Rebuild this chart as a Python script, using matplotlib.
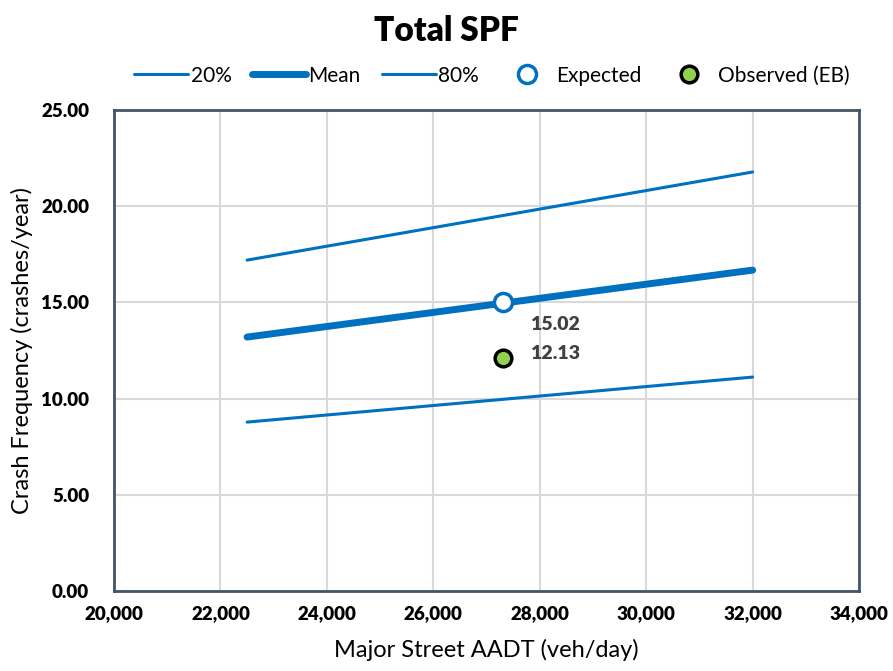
import matplotlib.pyplot as plt

plt.rcParams['font.family'] = ['Lato', 'DejaVu Sans']

# SPF curves (end points)
aadt = [22500, 32000]
low_20 = [8.78, 11.12]
mean = [13.2, 16.68]
high_80 = [17.2, 21.78]

site_aadt = 27300
expected = 15.02
observed = 12.13

x_ticks = list(range(20000, 34001, 2000))
y_ticks = [0, 5, 10, 15, 20, 25]

blue = '#0070C0'
green = '#92D050'
frame = '#44546A'

fig = plt.figure(figsize=(8.93, 6.71), dpi=100)
ax = fig.add_axes([0.1277, 0.1192, 0.962 - 0.1277, 0.836 - 0.1192])

ax.plot(aadt, low_20, color=blue, lw=2.2, solid_capstyle='round', label='20%')
ax.plot(aadt, mean, color=blue, lw=5, solid_capstyle='round', label='Mean')
ax.plot(aadt, high_80, color=blue, lw=2.2, solid_capstyle='round', label='80%')
ax.plot([site_aadt], [expected], 'o', ms=13, mfc='white', mec=blue, mew=2.5,
        ls='none', label='Expected', zorder=5)
ax.plot([site_aadt], [observed], 'o', ms=12, mfc=green, mec='black', mew=2.5,
        ls='none', label='Observed (EB)', zorder=5)

ax.annotate(f'{expected:.2f}', (site_aadt, expected), xytext=(20, -16),
            textcoords='offset points', fontsize=14, fontweight='heavy',
            color='#404040', va='center')
ax.annotate(f'{observed:.2f}', (site_aadt, observed), xytext=(20, 3),
            textcoords='offset points', fontsize=14, fontweight='heavy',
            color='#404040', va='center')

ax.set_xlim(20000, 34000)
ax.set_ylim(0, 25)
ax.set_xticks(x_ticks)
ax.set_xticklabels([f'{v:,}' for v in x_ticks], fontweight='heavy')
ax.set_yticks(y_ticks)
ax.set_yticklabels([f'{v:.2f}' for v in y_ticks], fontweight='heavy')
ax.tick_params(length=0, labelsize=13.5)
ax.tick_params(axis='y', pad=18)
ax.tick_params(axis='x', pad=10)
ax.grid(True, color='#D9D9D9', lw=1.5)
ax.set_axisbelow(True)
for s in ax.spines.values():
    s.set_color(frame)
    s.set_linewidth(2)

ax.set_xlabel('Major Street AADT (veh/day)', fontsize=17, labelpad=12)
ax.set_ylabel('Crash Frequency (crashes/year)', fontsize=17, labelpad=6)
fig.suptitle('Total SPF', fontsize=24, fontweight='heavy', y=0.978)

fig.legend(loc='upper center', bbox_to_anchor=(0.551, 0.93), ncol=5,
           frameon=False, fontsize=15, handlelength=2.6, handletextpad=0.1,
           columnspacing=1.0, numpoints=1)

fig.savefig('out.png', dpi=100)
